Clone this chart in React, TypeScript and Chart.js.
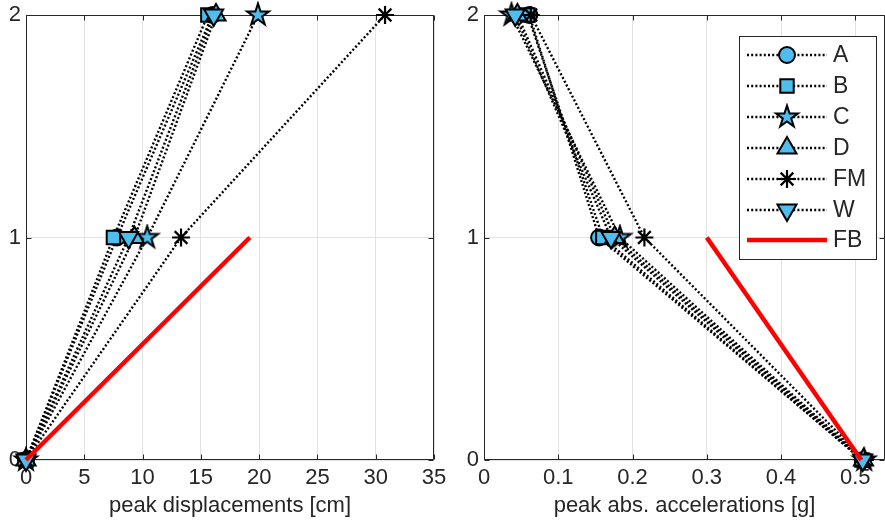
import React, { useEffect, useRef } from 'react';
import { Chart, registerables } from 'chart.js';
import { drawPoint } from 'chart.js/helpers';

Chart.register(...registerables);

// ---- data ----
const levels = [0, 1, 2];
const fbLevels = [0, 1];
const seriesNames = ['A', 'B', 'C', 'D', 'FM', 'W', 'FB'];

const dispA = [0, 7.8, 16.0];
const dispB = [0, 7.5, 15.6];
const dispC = [0, 10.4, 19.9];
const dispD = [0, 9.3, 16.3];
const dispFM = [0, 13.3, 30.8];
const dispW = [0, 8.8, 16.1];
const dispFB = [0, 19.2];

const accA = [0.510, 0.155, 0.061];
const accB = [0.509, 0.160, 0.059];
const accC = [0.512, 0.183, 0.037];
const accD = [0.511, 0.176, 0.045];
const accFM = [0.513, 0.216, 0.063];
const accW = [0.510, 0.171, 0.042];
const accFB = [0.508, 0.300];

const dispTicks = [0, 5, 10, 15, 20, 25, 30, 35];
const accTicks = [0, 0.1, 0.2, 0.3, 0.4, 0.5];
const levelTicks = [0, 1, 2];

const TEXT = '#262626';
const FILL = '#4DBEEE';
const GRID = '#e3e3e3';
const FONT = 'Liberation Sans, Arial, sans-serif';

function makePentagram(): HTMLCanvasElement {
  const R = 11.5;
  const S = 28;
  const c = document.createElement('canvas');
  c.width = S;
  c.height = S;
  const g = c.getContext('2d')!;
  const cx = S / 2, cy = S / 2;
  const r = R * 0.382;
  g.beginPath();
  for (let i = 0; i < 10; i++) {
    const rad = i % 2 === 0 ? R : r;
    const ang = -Math.PI / 2 + (i * Math.PI) / 5;
    const x = cx + rad * Math.cos(ang);
    const y = cy + rad * Math.sin(ang);
    if (i === 0) g.moveTo(x, y);
    else g.lineTo(x, y);
  }
  g.closePath();
  g.fillStyle = FILL;
  g.fill();
  g.lineWidth = 2;
  g.strokeStyle = '#000';
  g.lineJoin = 'miter';
  g.stroke();
  return c;
}

type Marker = { pointStyle: any; radius: number; rotation: number; borderWidth: number };

function markers(star: HTMLCanvasElement): Marker[] {
  return [
    { pointStyle: 'circle', radius: 8, rotation: 0, borderWidth: 2 },
    { pointStyle: 'rect', radius: 9.5, rotation: 0, borderWidth: 2 },
    { pointStyle: star, radius: 12, rotation: 0, borderWidth: 0 },
    { pointStyle: 'triangle', radius: 11, rotation: 0, borderWidth: 2 },
    { pointStyle: 'star', radius: 9, rotation: 0, borderWidth: 2.2 },
    { pointStyle: 'triangle', radius: 11, rotation: 180, borderWidth: 2 },
  ];
}

function buildDatasets(xs: number[][], fb: number[], star: HTMLCanvasElement) {
  const mk = markers(star);
  const ds: any[] = xs.map((arr, i) => ({
    label: seriesNames[i],
    data: arr.map((v, j) => ({ x: v, y: levels[j] })),
    borderColor: '#000',
    borderWidth: 2.4,
    borderDash: [2, 2.2],
    borderCapStyle: 'butt',
    pointStyle: mk[i].pointStyle,
    pointRadius: mk[i].radius,
    pointRotation: mk[i].rotation,
    pointBackgroundColor: FILL,
    pointBorderColor: '#000',
    pointBorderWidth: mk[i].borderWidth,
    pointHoverRadius: mk[i].radius,
    showLine: true,
    fill: false,
    clip: false,
    order: 10 - i,
  }));
  ds.push({
    label: 'FB',
    data: fb.map((v, j) => ({ x: v, y: fbLevels[j] })),
    borderColor: '#FF0000',
    borderWidth: 4.5,
    pointRadius: 0,
    pointHoverRadius: 0,
    showLine: true,
    fill: false,
    clip: false,
    order: 1,
  });
  return ds;
}

const boxPlugin = {
  id: 'boxTicks',
  beforeDatasetsDraw(chart: any) {
    const { ctx, chartArea: a, scales } = chart;
    const L = Math.round(a.left) + 0.5;
    const T = Math.round(a.top) + 0.5;
    const B = Math.round(a.bottom) - 0.5;
    const Rr = Math.round(a.right) - 0.5;
    ctx.save();
    ctx.strokeStyle = TEXT;
    ctx.lineWidth = 1;
    ctx.setLineDash([]);
    ctx.beginPath();
    ctx.moveTo(Rr, T);
    ctx.lineTo(L, T);
    ctx.lineTo(L, B);
    ctx.lineTo(Rr, B);
    ctx.lineTo(Rr, T);
    const tl = 5;
    for (const t of scales.x.ticks) {
      const px = Math.round(scales.x.getPixelForValue(t.value)) + 0.5;
      ctx.moveTo(px, B);
      ctx.lineTo(px, B - tl);
      ctx.moveTo(px, T);
      ctx.lineTo(px, T + tl);
    }
    for (const t of scales.y.ticks) {
      const py = Math.round(scales.y.getPixelForValue(t.value)) + 0.5;
      ctx.moveTo(L, py);
      ctx.lineTo(L + tl, py);
      ctx.moveTo(Rr, py);
      ctx.lineTo(Rr - tl, py);
    }
    ctx.stroke();
    ctx.restore();
  },
};

function makeLegendPlugin(star: HTMLCanvasElement) {
  return {
    id: 'customLegend',
    afterDraw(chart: any) {
      const { ctx } = chart;
      const mk = markers(star);
      const bx = 299, by = 36, bw = 137, bh = 223;
      ctx.save();
      ctx.fillStyle = '#fff';
      ctx.fillRect(bx, by, bw, bh);
      ctx.strokeStyle = TEXT;
      ctx.lineWidth = 1;
      ctx.strokeRect(bx + 0.5, by + 0.5, bw, bh);
      const rowY = [55, 86, 117, 148, 179, 210, 240];
      const x0 = 307, x1 = 387, mx = 347, tx = 393;
      seriesNames.forEach((name, i) => {
        const y = rowY[i];
        ctx.beginPath();
        if (name === 'FB') {
          ctx.strokeStyle = '#FF0000';
          ctx.lineWidth = 4.5;
          ctx.setLineDash([]);
        } else {
          ctx.strokeStyle = '#000';
          ctx.lineWidth = 2.4;
          ctx.setLineDash([2, 2.2]);
        }
        ctx.moveTo(x0, y);
        ctx.lineTo(x1, y);
        ctx.stroke();
        ctx.setLineDash([]);
        if (name !== 'FB') {
          const m = mk[i];
          ctx.fillStyle = FILL;
          ctx.strokeStyle = '#000';
          ctx.lineWidth = m.borderWidth;
          drawPoint(ctx, { pointStyle: m.pointStyle, rotation: m.rotation, radius: m.radius, borderWidth: m.borderWidth }, mx, y);
        }
        ctx.fillStyle = TEXT;
        ctx.font = `23px ${FONT}`;
        ctx.textAlign = 'left';
        ctx.textBaseline = 'middle';
        ctx.fillText(name, tx, y + 1);
      });
      ctx.restore();
    },
  };
}

const zeroPadding = () => ({ left: 0, top: 0, right: 0, bottom: 0 });

function makeOptions(opts: {
  xmin: number; xmax: number; xTicks: number[]; title: string;
  yWidth: number; padRight: number; fmt: (v: number) => string;
}) {
  return {
    responsive: false,
    animation: false,
    events: [],
    layout: { autoPadding: false, padding: { left: 0, right: opts.padRight, top: 15, bottom: 0 } },
    plugins: { legend: { display: false }, tooltip: { enabled: false } },
    scales: {
      x: {
        type: 'linear',
        min: opts.xmin,
        max: opts.xmax,
        afterBuildTicks: (s: any) => {
          s.ticks = opts.xTicks.map((v) => ({ value: v }));
        },
        afterFit: (s: any) => {
          s.height = 71;
          s.paddingLeft = 0;
          s.paddingRight = 0;
          s.getPadding = zeroPadding;
        },
        ticks: {
          font: { family: FONT, size: 22 },
          color: TEXT,
          padding: 5,
          maxRotation: 0,
          autoSkip: false,
          callback: (v: any) => opts.fmt(Number(v)),
        },
        grid: { color: GRID, drawTicks: false, lineWidth: 1 },
        border: { display: false },
        title: {
          display: true,
          text: opts.title,
          font: { family: FONT, size: 22 },
          color: TEXT,
          padding: { top: 0, bottom: 12 },
        },
      },
      y: {
        type: 'linear',
        min: 0,
        max: 2,
        afterBuildTicks: (s: any) => {
          s.ticks = levelTicks.map((v) => ({ value: v }));
        },
        afterFit: (s: any) => {
          s.width = opts.yWidth;
          s.paddingTop = 0;
          s.paddingBottom = 0;
          s.getPadding = zeroPadding;
        },
        ticks: {
          font: { family: FONT, size: 22 },
          color: TEXT,
          padding: 5,
          autoSkip: false,
          callback: (v: any) => String(v),
        },
        grid: { color: GRID, drawTicks: false, lineWidth: 1 },
        border: { display: false },
      },
    },
  } as any;
}

export default function App() {
  const leftRef = useRef<HTMLCanvasElement>(null);
  const rightRef = useRef<HTMLCanvasElement>(null);

  useEffect(() => {
    document.body.style.margin = '0';
    const star = makePentagram();
    const left = new Chart(leftRef.current!, {
      type: 'scatter',
      data: {
        datasets: buildDatasets([dispA, dispB, dispC, dispD, dispFM, dispW], dispFB, star),
      },
      options: makeOptions({
        xmin: 0, xmax: 35, xTicks: dispTicks, title: 'peak displacements [cm]',
        yWidth: 26, padRight: 26, fmt: (v) => String(v),
      }),
      plugins: [boxPlugin],
    });
    const right = new Chart(rightRef.current!, {
      type: 'scatter',
      data: {
        datasets: buildDatasets([accA, accB, accC, accD, accFM, accW], accFB, star),
      },
      options: makeOptions({
        xmin: 0, xmax: 0.54, xTicks: accTicks, title: 'peak abs. accelerations [g]',
        yWidth: 44, padRight: 0, fmt: (v) => (v === 0 ? '0' : String(Math.round(v * 10) / 10)),
      }),
      plugins: [boxPlugin, makeLegendPlugin(star)],
    });
    return () => {
      left.destroy();
      right.destroy();
    };
  }, []);

  return (
    <div style={{ position: 'fixed', left: 0, top: 0, width: 885, height: 531, background: '#fff', overflow: 'hidden' }}>
      <canvas ref={leftRef} width={460} height={531} style={{ position: 'absolute', left: 0, top: 0, width: 460, height: 531 }} />
      <canvas ref={rightRef} width={445} height={531} style={{ position: 'absolute', left: 440, top: 0, width: 445, height: 531 }} />
    </div>
  );
}
